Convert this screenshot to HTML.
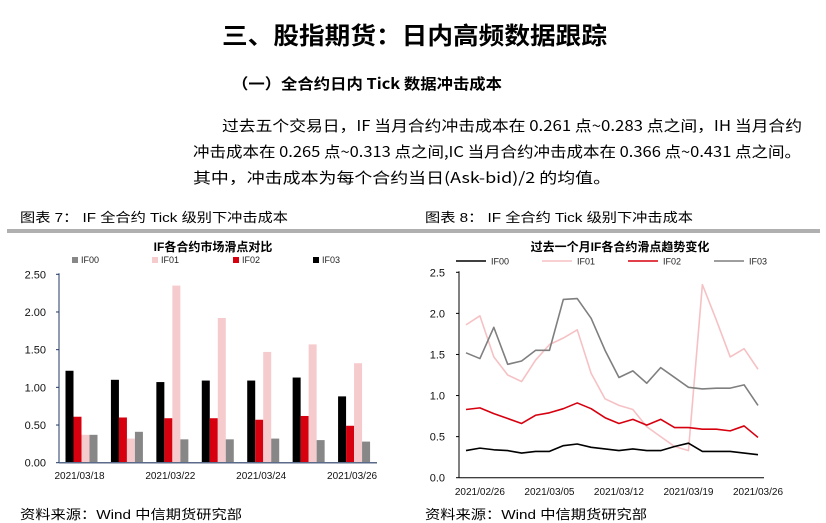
<!DOCTYPE html>
<html><head><meta charset="utf-8">
<style>
body{margin:0;background:#fff;}
svg{display:block;font-family:"Liberation Sans","Noto Sans CJK SC",sans-serif;}
</style></head>
<body>
<svg id="page" width="826" height="523" viewBox="0 0 826 523" xmlns="http://www.w3.org/2000/svg">
<text x="222" y="44" font-size="24" font-weight="bold" fill="#000" textLength="385" lengthAdjust="spacingAndGlyphs" font-family="Noto Sans CJK SC,sans-serif">三、股指期货：日内高频数据跟踪</text>
<text x="232" y="89" font-size="15" font-weight="bold" textLength="270" lengthAdjust="spacingAndGlyphs" font-family="Noto Sans CJK SC,sans-serif">（一）全合约日内 Tick 数据冲击成本</text>
<g font-size="15" fill="#000" font-family="Noto Sans CJK SC,sans-serif">
<text x="222" y="131" textLength="580" lengthAdjust="spacingAndGlyphs">过去五个交易日，IF 当月合约冲击成本在 0.261 点~0.283 点之间，IH 当月合约</text>
<text x="193" y="157" textLength="608" lengthAdjust="spacingAndGlyphs">冲击成本在 0.265 点~0.313 点之间,IC 当月合约冲击成本在 0.366 点~0.431 点之间。</text>
<text x="193" y="183" textLength="418" lengthAdjust="spacingAndGlyphs">其中，冲击成本为每个合约当日(Ask-bid)/2 的均值。</text>
</g>
<text x="20" y="222" font-size="13" textLength="268" lengthAdjust="spacingAndGlyphs">图表 7：  IF 全合约 Tick 级别下冲击成本</text>
<text x="425" y="222" font-size="13" textLength="268" lengthAdjust="spacingAndGlyphs">图表 8：  IF 全合约 Tick 级别下冲击成本</text>
<rect x="7" y="229" width="813" height="4" fill="#b0b0b0"/>
<g id="bar"></g>
<g id="line"></g>
<text x="20" y="519" font-size="13" textLength="222" lengthAdjust="spacingAndGlyphs">资料来源：Wind  中信期货研究部</text>
<text x="425" y="519" font-size="13" textLength="222" lengthAdjust="spacingAndGlyphs">资料来源：Wind  中信期货研究部</text>
</svg>
<script>
const NS="http://www.w3.org/2000/svg";
function mk(p,tag,a,txt){const e=document.createElementNS(NS,tag);for(const k in a)e.setAttribute(k,a[k]);if(txt!==undefined)e.textContent=txt;p.appendChild(e);return e;}

// ---- bar chart data ----
const barCategories=["2021/03/18","2021/03/19","2021/03/22","2021/03/23","2021/03/24","2021/03/25","2021/03/26"];
const barIF03=[1.22,1.10,1.07,1.09,1.09,1.13,0.88];
const barIF02=[0.61,0.60,0.59,0.59,0.57,0.62,0.49];
const barIF01=[0.37,0.32,2.35,1.92,1.47,1.57,1.32];
const barIF00=[0.37,0.41,0.31,0.31,0.32,0.30,0.28];
const barTicks=["0.00","0.50","1.00","1.50","2.00","2.50"];
// ---- line chart data ----
const lineDates=["2021/02/25","2021/02/26","2021/03/01","2021/03/02","2021/03/03","2021/03/04","2021/03/05","2021/03/08","2021/03/09","2021/03/10","2021/03/11","2021/03/12","2021/03/15","2021/03/16","2021/03/17","2021/03/18","2021/03/19","2021/03/22","2021/03/23","2021/03/24","2021/03/25","2021/03/26"];
const lineIF00=[0.33,0.36,0.34,0.33,0.30,0.32,0.32,0.39,0.41,0.37,0.35,0.33,0.35,0.33,0.33,0.38,0.42,0.32,0.32,0.32,0.30,0.28];
const lineIF01=[1.86,1.97,1.47,1.25,1.17,1.43,1.62,1.70,1.80,1.27,0.96,0.88,0.83,0.62,0.50,0.38,0.33,2.35,1.92,1.47,1.57,1.32];
const lineIF02=[0.83,0.85,0.78,0.72,0.66,0.76,0.79,0.84,0.91,0.84,0.73,0.66,0.71,0.64,0.71,0.61,0.61,0.59,0.59,0.57,0.63,0.49];
const lineIF03=[1.52,1.45,1.83,1.38,1.42,1.55,1.55,2.17,2.18,1.94,1.55,1.22,1.30,1.15,1.34,1.22,1.10,1.08,1.09,1.09,1.13,0.88];
const lineTicks=["0.0","0.5","1.0","1.5","2.0","2.5"];
const lineLabelIdx=[1,6,11,16,21];

// ---- bar chart ----
(function(){
const g=document.getElementById('bar');
const x0=59,x1=377,y0=462.7,yTop=274.3,max=2.5;
const y=v=>y0-(v/max)*(y0-yTop);
const gw=(x1-x0)/barCategories.length;
let t=mk(g,'text',{x:213,y:251,'text-anchor':'middle','font-size':12,'font-weight':'bold'},'IF各合约市场滑点对比');

const series=[["IF00",barIF00,"#878787",72],["IF01",barIF01,"#f6cbcd",152],["IF02",barIF02,"#d7000f",233],["IF03",barIF03,"#000",313]];
series.forEach(s=>{const le=mk(g,'g',{});

mk(le,'rect',{x:s[3],y:257,width:6,height:6,fill:s[2]});
mk(le,'text',{x:s[3]+9,y:263,'font-size':9,fill:'#222'},s[0]);});
barTicks.forEach(tk=>{const e=mk(g,'text',{x:46,y:y(+tk)+4,'text-anchor':'end','font-size':11,fill:'#111'},tk);

mk(g,'line',{x1:x0-3,x2:x0,y1:y(+tk),y2:y(+tk),stroke:'#1f3864'});});
const order=[[barIF03,"#000","if03"],[barIF02,"#d7000f","if02"],[barIF01,"#f6cbcd","if01"],[barIF00,"#878787","if00"]];
const bw=8;
barCategories.forEach((c,i)=>{
  const gx=x0+gw*i+6.5;
  order.forEach((o,j)=>{const r=mk(g,'rect',{x:gx+j*bw,y:y(o[0][i]),width:bw,height:y0-y(o[0][i]),fill:o[1]});
  });
  if(i%2===0){const e=mk(g,'text',{x:gx+14,y:479,'text-anchor':'middle','font-size':10,fill:'#111'},c);
  }
});
const ax=mk(g,'line',{x1:x0,x2:x0,y1:yTop-1,y2:y0,stroke:'#1f3864','stroke-width':1});

const bx=mk(g,'line',{x1:x0,x2:x1,y1:y0,y2:y0,stroke:'#5a6a8a','stroke-width':1.5});

})();

// ---- line chart ----
(function(){
const g=document.getElementById('line');
const x0=459,x1=764,px0=466,px1=758,y0=477.7,yTop=272.3,max=2.5;
const y=v=>y0-(v/max)*(y0-yTop);
const x=i=>px0+(px1-px0)*i/(lineDates.length-1);
let t=mk(g,'text',{x:620,y:251,'text-anchor':'middle','font-size':12,'font-weight':'bold'},'过去一个月IF各合约滑点趋势变化');

const series=[["IF00",lineIF00,"#000",456],["IF01",lineIF01,"#f6c1c4",542],["IF02",lineIF02,"#d7000f",628],["IF03",lineIF03,"#7f7f7f",714]];
series.forEach(s=>{const le=mk(g,'g',{});

mk(le,'line',{x1:s[3],x2:s[3]+30,y1:261,y2:261,stroke:s[2],'stroke-width':1.5});
mk(le,'text',{x:s[3]+35,y:264.5,'font-size':9,fill:'#222'},s[0]);});
lineTicks.forEach(tk=>{const e=mk(g,'text',{x:445,y:y(+tk)+4,'text-anchor':'end','font-size':11,fill:'#111'},tk);

mk(g,'line',{x1:x0-3,x2:x0,y1:y(+tk),y2:y(+tk),stroke:'#000'});});
lineLabelIdx.forEach(i=>{const e=mk(g,'text',{x:x(i),y:495,'text-anchor':'middle','font-size':10,fill:'#111'},lineDates[i]);
});
const ax=mk(g,'line',{x1:x0,x2:x0,y1:yTop-1,y2:y0,stroke:'#000'});

const bx=mk(g,'line',{x1:x0,x2:x1,y1:y0,y2:y0,stroke:'#000'});

[[lineIF01,"#f6c1c4","if01"],[lineIF03,"#7f7f7f","if03"],[lineIF02,"#d7000f","if02"],[lineIF00,"#000","if00"]].forEach(s=>{
  const p=mk(g,'polyline',{points:s[0].map((v,i)=>x(i)+','+y(v)).join(' '),fill:'none',stroke:s[1],'stroke-width':1.6,'stroke-linejoin':'round'});
  
});
})();
</script>
</body></html>
